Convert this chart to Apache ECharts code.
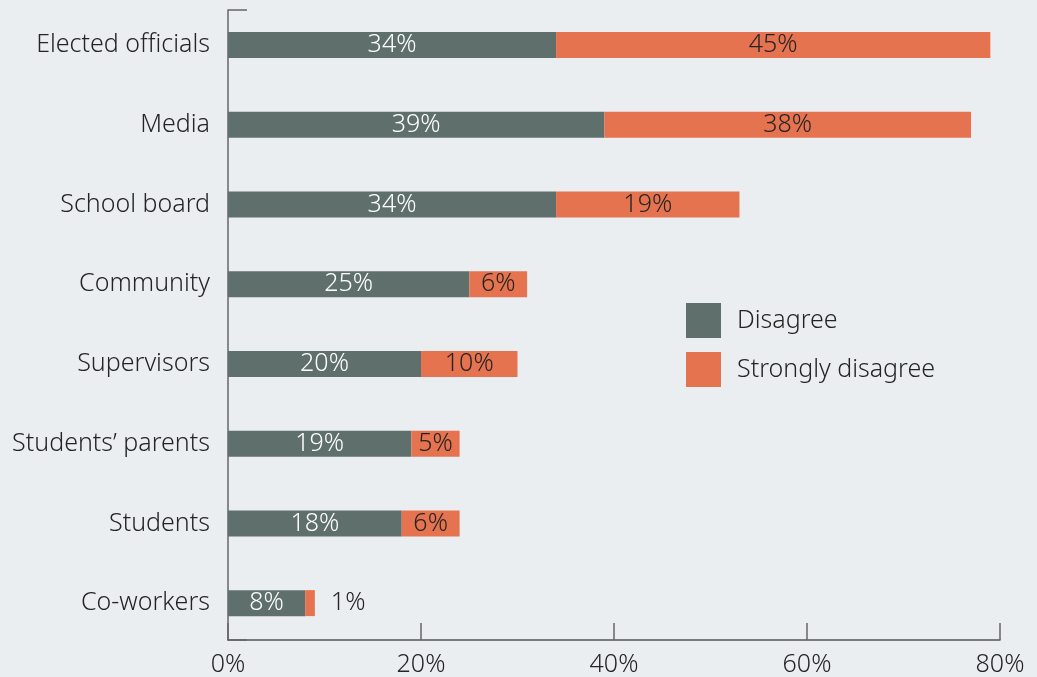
<!DOCTYPE html>
<html>
<head>
<meta charset="utf-8">
<script src="https://cdn.jsdelivr.net/npm/echarts@6/dist/echarts.min.js"></script>
<style>
html,body{margin:0;padding:0;background:#ebeef0;}
#c{width:1037px;height:677px;}
</style>
</head>
<body>
<div id="c"></div>
<script>
const categories = ["Elected officials","Media","School board","Community","Supervisors","Students\u2019 parents","Students","Co-workers"];
const disagree = [34,39,34,25,20,19,18,8];
const stronglyDisagree = [45,38,19,6,10,5,6,1];
const xTicks = [0,20,40,60,80];

const FONT = '"Noto Sans", "Open Sans", sans-serif';
const FS = 25;
const TXT = '#242424';
const XMIN = xTicks[0], XMAX = xTicks[xTicks.length-1];
const chart = echarts.init(document.getElementById('c'));
chart.setOption({
  backgroundColor: '#ebeef0',
  textStyle: {fontFamily: FONT},
  animation: false,
  legend: {
    orient: 'vertical', left: 686, top: 303, padding: 0,
    itemWidth: 35, itemHeight: 35, itemGap: 14,
    icon: 'rect',
    textStyle: {fontSize: FS, color: TXT, fontFamily: FONT, fontWeight: 300, padding: [0,0,0,11]},
    data: ['Disagree','Strongly disagree']
  },
  grid: [
    {left: 228, right: 37, top: 5, bottom: 34},
    {left: 228, right: 37, top: 10, bottom: 37}
  ],
  xAxis: [
    {gridIndex: 0, type: 'value', min: XMIN, max: XMAX, show: false},
    {gridIndex: 1, type: 'value', min: XMIN, max: XMAX, interval: 20,
     axisLine: {show: true, lineStyle: {color: '#555', width: 1.5}},
     axisTick: {show: true, inside: true, length: 17, lineStyle: {color: '#666', width: 1.5}},
     splitLine: {show: false},
     axisLabel: {formatter: '{value}%', fontSize: FS, fontWeight: 300, color: TXT, margin: 12, fontFamily: FONT}}
  ],
  yAxis: [
    {gridIndex: 0, type: 'category', data: categories, inverse: true,
     axisLine: {show: false}, axisTick: {show: false},
     axisLabel: {fontSize: FS, fontWeight: 300, color: TXT, margin: 18, fontFamily: FONT}},
    {gridIndex: 1, type: 'value', min: 0, max: 1, interval: 1,
     axisLine: {show: true, lineStyle: {color: '#666', width: 1.5}},
     axisTick: {show: true, inside: true, length: 19, lineStyle: {color: '#666', width: 1.5}},
     axisLabel: {show: false}, splitLine: {show: false}}
  ],
  series: [
    {name: 'Disagree', type: 'bar', stack: 's', barWidth: 26, xAxisIndex: 0, yAxisIndex: 0,
     itemStyle: {color: '#5f6f6b'},
     label: {show: true, position: 'inside', formatter: '{c}%', color: '#ffffff', fontSize: FS, fontWeight: 300, fontFamily: FONT},
     data: disagree},
    {name: 'Strongly disagree', type: 'bar', stack: 's', barWidth: 26, xAxisIndex: 0, yAxisIndex: 0,
     itemStyle: {color: '#e5734f'},
     label: {show: true, position: 'inside', formatter: '{c}%', color: TXT, fontSize: FS, fontWeight: 300, fontFamily: FONT},
     data: stronglyDisagree.map(v => v < 2 ? {value: v, label: {position: 'right', distance: 16}} : v)}
  ]
});
</script>
</body>
</html>
